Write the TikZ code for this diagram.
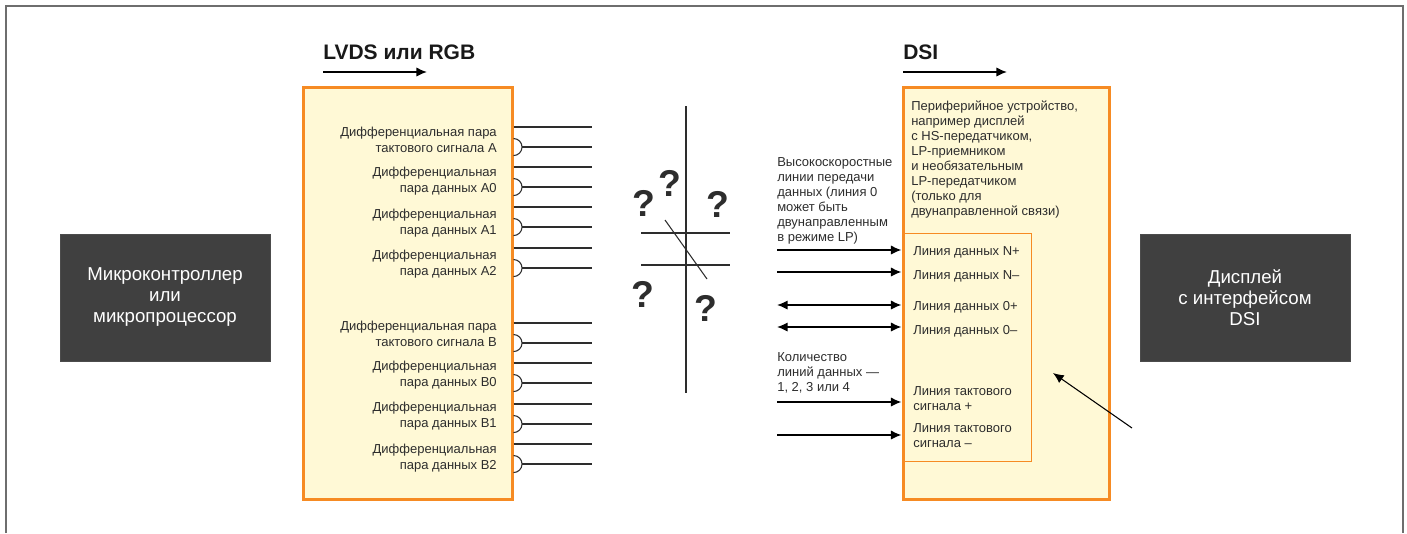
\documentclass[tikz,border=0pt]{standalone}
\usepackage{fontspec}
\setmainfont{Liberation Sans}
\usetikzlibrary{arrows.meta}
\definecolor{dsi_orange}{RGB}{246,139,35}
\definecolor{dsi_yellow}{RGB}{255,249,214}
\definecolor{dsi_dark}{RGB}{64,64,64}
\definecolor{dsi_frame}{RGB}{110,110,110}
\definecolor{dsi_text}{RGB}{45,45,45}
\tikzstyle{chipbox}=[rectangle,fill=dsi_dark,draw=black!70,line width=0.5pt,text=white,
  align=center,font=\fontsize{14}{15.75}\selectfont,inner sep=0pt,
  minimum width=157.5pt,minimum height=95pt]
\tikzstyle{portbox}=[rectangle,fill=dsi_yellow,draw=dsi_orange,line width=2.25pt,
  inner sep=0pt,minimum width=156.75pt,minimum height=309pt]
\tikzstyle{lanebox}=[rectangle,draw=dsi_orange,line width=0.75pt,inner sep=0pt,
  minimum width=96pt,minimum height=171pt]
\tikzstyle{pairlbl}=[inner sep=0pt,align=right,text=dsi_text,
  font=\fontsize{9.75}{12}\selectfont]
\tikzstyle{notetxt}=[inner sep=0pt,align=left,text=dsi_text,
  font=\fontsize{9.75}{11.25}\selectfont]
\tikzstyle{headtxt}=[inner sep=0pt,text=black!90,font=\fontsize{15.75}{17}\selectfont\bfseries]
\tikzstyle{qmark}=[inner sep=0pt,text=dsi_text,font=\fontsize{28}{28}\selectfont\bfseries]
\tikzstyle{wire}=[line width=0.8pt,draw=dsi_text]
\tikzstyle{sigarrow}=[line width=1.1pt,draw=black,-{Latex[length=8pt,width=7pt]}]
\tikzstyle{sigboth}=[line width=1.1pt,draw=black,{Latex[length=8pt,width=7pt]}-{Latex[length=8pt,width=7pt]}]

\begin{document}
\begin{tikzpicture}[x=0.75pt,y=-0.75pt]
    \useasboundingbox (0,0) rectangle (1407,533);
    % frame, open at the bottom
    \draw[dsi_frame,line width=1pt] (6,533) -- (6,6) -- (1403,6) -- (1403,533);

    \node [style=chipbox] (mcu) at (165,297.5) {Микроконтроллер\\или\\микропроцессор};
    \node [style=chipbox] (disp) at (1245,297.5) {Дисплей\\с интерфейсом\\DSI};

    \node [style=portbox] (lvds) at (407.5,293.5) {};
    \node [style=portbox,minimum width=154.5pt] (dsi) at (1006,293) {};
    \node [style=lanebox] (lanes) at (967,347) {};

    \node [style=headtxt,anchor=west] (lvdst) at (323,52) {LVDS или RGB};
    \node [style=headtxt,anchor=west] (dsit) at (903,52) {DSI};
    \draw [style=sigarrow] (lvdst.west |- 0,72) -- (427,72);
    \draw [style=sigarrow] (dsit.west |- 0,72) -- (1007,72);

    % differential pairs
    \foreach \y/\ly/\txt in {127/140/{Дифференциальная пара\\тактового сигнала A},
        167/181/{Дифференциальная\\пара данных A0},
        207/223/{Дифференциальная\\пара данных A1},
        248/264/{Дифференциальная\\пара данных A2},
        323/334/{Дифференциальная пара\\тактового сигнала B},
        363/375/{Дифференциальная\\пара данных B0},
        404/416/{Дифференциальная\\пара данных B1},
        444/458/{Дифференциальная\\пара данных B2}}{
      \draw [style=wire] (lvds.east |- 0,\y) -- (592,\y);
      \draw [style=wire] (lvds.east |- 0,\y+11.5) arc[start angle=90,end angle=-90,radius=6.4pt];
      \draw [style=wire] (lvds.east |- 0,\y+20) ++(8.5,0) -- (592,\y+20);
      \node [style=pairlbl,anchor=east] (p\y) at (497,\ly) {\txt};
    }

    % crossed-out link
    \draw [style=wire] (686,106) -- (686,393);
    \draw [style=wire] (641,233) -- (730,233);
    \draw [style=wire] (641,265) -- (730,265);
    \draw [style=wire] (665,220) -- (707,279);
    \foreach \x/\y [count=\i] in {670/183,644/203,718/204,643/294,706/308}
      \node [style=qmark] (q\i) at (\x,\y) {?};

    \node [style=notetxt,anchor=north west] (hs) at (777,157) {Высокоскоростные\\линии передачи\\данных (линия 0\\может быть\\двунаправленным\\в режиме LP)};
    \node [style=notetxt,anchor=north west] (cnt) at (777,352) {Количество\\линий данных —\\1, 2, 3 или 4};
    \node [style=notetxt,anchor=north west] (periph) at (911,101) {Периферийное устройство,\\например дисплей\\с HS-передатчиком,\\LP-приемником\\и необязательным\\LP-передатчиком\\(только для\\двунаправленной связи)};

    \node [style=notetxt,anchor=west] (dnp) at (913,252) {Линия данных N+};
    \node [style=notetxt,anchor=west] (dnm) at (913,276) {Линия данных N–};
    \node [style=notetxt,anchor=west] (d0p) at (913,307) {Линия данных 0+};
    \node [style=notetxt,anchor=west] (d0m) at (913,331) {Линия данных 0–};
    \node [style=notetxt,anchor=west] (clkp) at (913,398.5) {Линия тактового\\сигнала +};
    \node [style=notetxt,anchor=west] (clkm) at (913,435.5) {Линия тактового\\сигнала –};

    \draw [style=sigarrow] (777,250) -- (dsi.west |- 0,250);
    \draw [style=sigarrow] (777,272) -- (dsi.west |- 0,272);
    \draw [style=sigboth] (777,305) -- (dsi.west |- 0,305);
    \draw [style=sigboth] (777,327) -- (dsi.west |- 0,327);
    \draw [style=sigarrow] (777,402) -- (dsi.west |- 0,402);
    \draw [style=sigarrow] (777,435) -- (dsi.west |- 0,435);

    \draw [line width=0.8pt,-{Latex[length=8pt,width=7pt]}] (1132,428) -- (1053,373);
\end{tikzpicture}
\end{document}
